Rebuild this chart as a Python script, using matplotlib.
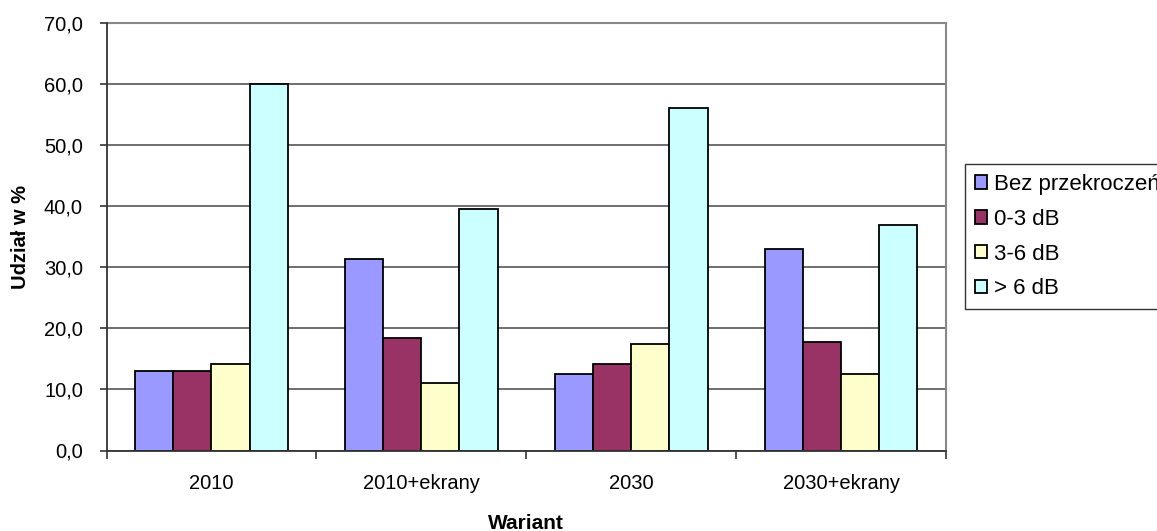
import matplotlib
matplotlib.use("Agg")
import matplotlib.pyplot as plt
import numpy as np
from matplotlib.ticker import FuncFormatter

plt.rcParams['font.family'] = ['Liberation Sans', 'DejaVu Sans']

categories = ["2010", "2010+ekrany", "2030", "2030+ekrany"]
series_names = ["Bez przekroczeń", "0-3 dB", "3-6 dB", "> 6 dB"]
bez_przekroczen = [13.0, 31.3, 12.5, 33.0]
db_0_3 = [13.0, 18.4, 14.2, 17.8]
db_3_6 = [14.2, 11.1, 17.5, 12.5]
db_6_plus = [60.0, 39.5, 56.1, 37.0]
colors = ["#9999FF", "#993366", "#FFFFCC", "#CCFFFF"]

series = [bez_przekroczen, db_0_3, db_3_6, db_6_plus]

fig = plt.figure(figsize=(11.57, 5.31), dpi=100)
ax = fig.add_axes([106.5 / 1157, 1 - 450.5 / 531, (946 - 106.5) / 1157, (450.5 - 23.3) / 531])

x = np.arange(len(categories))
width = 1 / 5.5
for i, (vals, name, col) in enumerate(zip(series, series_names, colors)):
    offs = (i - 1.5) * width
    ax.bar(x + offs, vals, width, color=col, edgecolor="black", linewidth=1.3,
           label=name, zorder=3)

ax.set_xlim(-0.5, len(categories) - 0.5)
ax.set_ylim(0, 70)
ax.set_yticks(np.arange(0, 71, 10))
ax.yaxis.set_major_formatter(FuncFormatter(lambda v, p: f"{v:.1f}".replace(".", ",")))
ax.set_xticks(np.arange(-0.5, len(categories), 1), minor=False)
ax.set_xticklabels([""] * (len(categories) + 1))
ax.set_xticks(x, minor=True)
ax.set_xticklabels(categories, minor=True)
ax.tick_params(axis="x", which="minor", length=0, pad=17, labelsize=14.5)
ax.tick_params(axis="x", which="major", length=5.5, width=1.2, color="#333333", direction="out")
ax.tick_params(axis="y", length=5, width=1.2, color="#333333", direction="out", labelsize=14.5, pad=12)

ax.grid(axis="y", color="#555555", linewidth=1.2, zorder=0)
for side in ["top", "right"]:
    ax.spines[side].set_color("#888888")
    ax.spines[side].set_linewidth(1.5)
for side in ["left", "bottom"]:
    ax.spines[side].set_color("#333333")
    ax.spines[side].set_linewidth(1.3)
    ax.spines[side].set_zorder(4)

ax.set_ylabel("Udział w %", fontsize=14.5, fontweight="bold", labelpad=10)
xl = ax.set_xlabel("Wariant", fontsize=15, fontweight="bold", labelpad=15)

leg = fig.legend(loc="upper left", bbox_to_anchor=(965 / 1157, 1 - 164 / 531),
                 fontsize=16, frameon=True, fancybox=False, edgecolor="black",
                 handlelength=0.55, handleheight=0.55, handletextpad=0.3,
                 labelspacing=0.62, borderpad=0.45, borderaxespad=0)
leg.get_frame().set_linewidth(1.0)

fig.savefig("out.png", dpi=100, facecolor="white")
